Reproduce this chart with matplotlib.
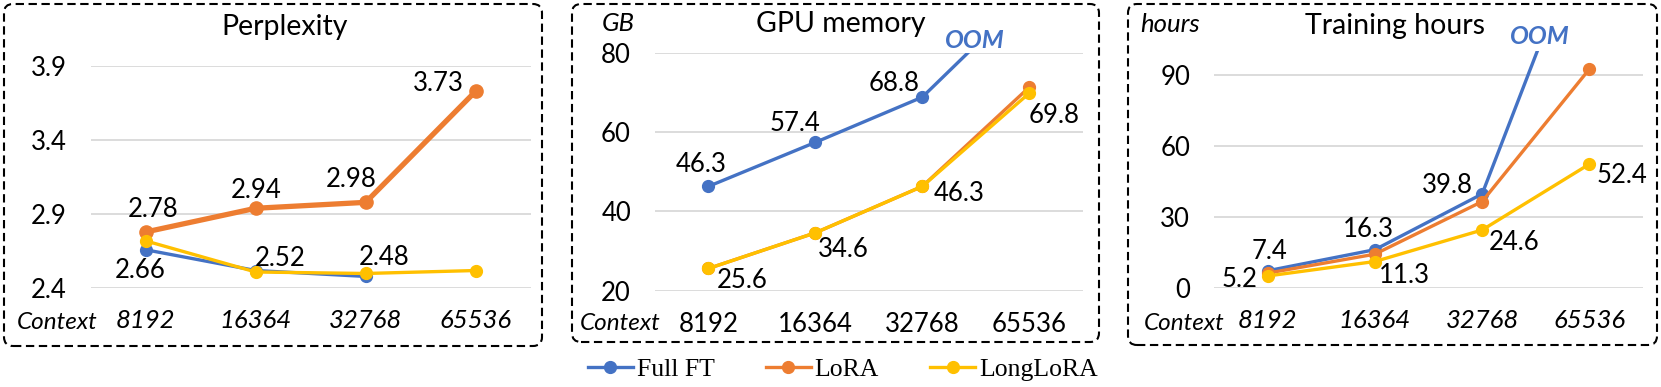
import numpy as np
import matplotlib.pyplot as plt
from matplotlib.patches import FancyBboxPatch
from matplotlib.transforms import IdentityTransform

contexts = ["8192", "16364", "32768", "65536"]
series = ["Full FT", "LoRA", "LongLoRA"]
colors = ["#4472C4", "#ED7D31", "#FFC000"]

# perplexity (full FT has no 65536 point)
ppl_full = [2.66, 2.52, 2.48, np.nan]
ppl_lora = [2.78, 2.94, 2.98, 3.73]
ppl_long = [2.72, 2.51, 2.50, 2.52]

# GPU memory, GB (full FT runs out of memory at 65536)
mem_full = [46.3, 57.4, 68.8, 95.0]
mem_lora = [25.6, 34.6, 46.3, 71.3]
mem_long = [25.6, 34.6, 46.3, 69.8]

# training hours
hrs_full = [7.4, 16.3, 39.8, 157.0]
hrs_lora = [6.4, 14.4, 36.6, 92.5]
hrs_long = [5.2, 11.3, 24.6, 52.4]

W, H = 1661, 387
FONT = "Lato"
fs = 18.5
fs_title = 20.5

fig = plt.figure(figsize=(W / 100, H / 100), dpi=100)

def px(v):
    return v * 0.72   # pixels -> points at dpi 100

def make_axes(l, r, t, b):
    return fig.add_axes([l / W, 1 - b / H, (r - l) / W, (b - t) / H])

def dashed_box(x0, x1, y0, y1):
    p = FancyBboxPatch((x0, H - y1), x1 - x0, y1 - y0,
                       boxstyle="round,pad=0,rounding_size=9",
                       transform=IdentityTransform(), fill=False,
                       edgecolor="black", lw=1.5, linestyle=(0, (4, 2.2)))
    fig.add_artist(p)

def setup(ax, ylim, yticks, ylabels, xitalic, ctx_dx, ctx_dy):
    x = np.arange(len(contexts))
    ax.set_xlim(-0.5, 3.5)
    ax.set_ylim(*ylim)
    ax.set_yticks(yticks, ylabels, fontsize=fs, family=FONT)
    ax.set_xticks(x, contexts, fontsize=fs, family=FONT,
                  style="italic" if xitalic else "normal")
    for s in ax.spines.values():
        s.set_visible(False)
    ax.tick_params(length=0)
    ax.tick_params(axis="y", pad=px(24))
    ax.tick_params(axis="x", pad=px(21))
    ax.yaxis.grid(True, color="#D9D9D9", lw=1.3)
    ax.set_axisbelow(True)
    ax.patch.set_alpha(0)
    ax.annotate("Context", xy=(0, 0), xycoords="axes fraction",
                xytext=(px(ctx_dx), -px(ctx_dy)), textcoords="offset points",
                fontsize=17.5, family=FONT, style="italic", ha="center", va="center",
                annotation_clip=False)

def label(ax, x, v, txt, dx, dy):
    ax.annotate(txt, xy=(x, v), xytext=(px(dx), -px(dy)), textcoords="offset points",
                ha="center", va="center", fontsize=fs, family=FONT,
                annotation_clip=False)

x = np.arange(len(contexts))
ms = 8.5
lw = 2.4

# ---------------- Perplexity
dashed_box(4, 542, 4, 346)
ax1 = make_axes(90.7, 530.7, 66, 288.3)
setup(ax1, (2.4, 3.9), [2.4, 2.9, 3.4, 3.9], ["2.4", "2.9", "3.4", "3.9"], True,
      57 - 90.7, 34.5)
ax1.plot(x, ppl_full, color=colors[0], lw=lw, marker="o", ms=ms)
ax1.plot(x, ppl_lora, color=colors[1], lw=3.8, marker="o", ms=ms + 1)
ax1.plot(x, ppl_long, color=colors[2], lw=lw, marker="o", ms=ms)
for i, (dx, dy) in enumerate([(-6, 21), (24, -12), (18, -19)]):
    label(ax1, x[i], ppl_full[i], f"{ppl_full[i]:.2f}", dx, dy)
for i, (dx, dy) in enumerate([(7, -22), (0, -18), (-15, -23), (-37, -8)]):
    label(ax1, x[i], ppl_lora[i], f"{ppl_lora[i]:.2f}", dx, dy)
fig.text(285 / W, 1 - 27 / H, "Perplexity", fontsize=fs_title, family=FONT,
         ha="center", va="center")

# ---------------- GPU memory
dashed_box(572, 1099, 4, 342)
ax2 = make_axes(655, 1082.7, 52.7, 290.7)
setup(ax2, (20, 80), [20, 40, 60, 80], ["20", "40", "60", "80"], False,
      620 - 655, 32.6)
h = []
h += ax2.plot(x, mem_full, color=colors[0], lw=lw, marker="o", ms=ms, label=series[0])
h += ax2.plot(x, mem_lora, color=colors[1], lw=lw, marker="o", ms=ms, label=series[1])
h += ax2.plot(x, mem_long, color=colors[2], lw=lw, marker="o", ms=ms, label=series[2])
for i, (dx, dy) in enumerate([(-7, -22), (-20, -19), (-28, -14)]):
    label(ax2, x[i], mem_full[i], f"{mem_full[i]:.1f}", dx, dy)
for i, (dx, dy) in enumerate([(34, 12), (28, 17), (37, 7), (25, 22)]):
    label(ax2, x[i], mem_long[i], f"{mem_long[i]:.1f}", dx, dy)
fig.text(841 / W, 1 - 24 / H, "GPU memory", fontsize=fs_title, family=FONT,
         ha="center", va="center")
fig.text(618 / W, 1 - 23.5 / H, "GB", fontsize=fs, family=FONT, style="italic",
         ha="center", va="center")
fig.text(975 / W, 1 - 40 / H, "OOM", fontsize=18, family=FONT, style="italic",
         weight="bold", color=colors[0], ha="center", va="center")

# ---------------- Training hours
dashed_box(1128, 1657, 4, 345)
ax3 = make_axes(1214, 1643, 51.3, 288.3)
setup(ax3, (0, 100), [0, 30, 60, 90], ["0", "30", "60", "90"], True,
      1184 - 1214, 35)
ax3.plot(x, hrs_full, color=colors[0], lw=lw, marker="o", ms=ms)
ax3.plot(x, hrs_lora, color=colors[1], lw=lw, marker="o", ms=ms)
ax3.plot(x, hrs_long, color=colors[2], lw=lw, marker="o", ms=ms)
for i, (dx, dy) in enumerate([(2, -19), (-7, -20), (-35, -8)]):
    label(ax3, x[i], hrs_full[i], f"{hrs_full[i]:.1f}", dx, dy)
for i, (dx, dy) in enumerate([(-28, 4), (29, 14), (32, 13), (33, 11)]):
    label(ax3, x[i], hrs_long[i], f"{hrs_long[i]:.1f}", dx, dy)
fig.text(1395 / W, 1 - 26 / H, "Training hours", fontsize=fs_title, family=FONT,
         ha="center", va="center")
fig.text(1170 / W, 1 - 24 / H, "hours", fontsize=fs, family=FONT, style="italic",
         ha="center", va="center")
fig.text(1540 / W, 1 - 36 / H, "OOM", fontsize=18, family=FONT, style="italic",
         weight="bold", color=colors[0], ha="center", va="center")

# legend
fig.legend(handles=h, labels=series, loc="center", ncol=3,
           bbox_to_anchor=(843 / W, 1 - 369.3 / H), frameon=False,
           prop={"family": "Liberation Serif", "size": 18.5},
           handlelength=1.73, handletextpad=0.16, columnspacing=2.0,
           borderpad=0, borderaxespad=0)

fig.savefig("out.png", dpi=100)
